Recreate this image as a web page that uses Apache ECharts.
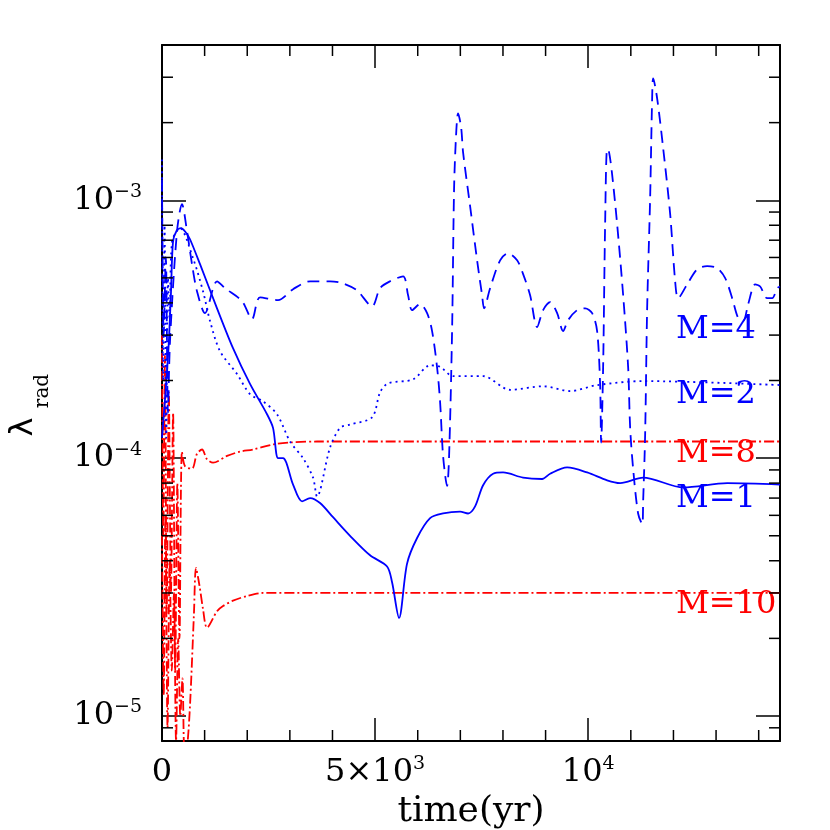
<!DOCTYPE html>
<html>
<head>
<meta charset="utf-8">
<script src="https://cdn.jsdelivr.net/npm/echarts@6/dist/echarts.min.js"></script>
<style>
  html, body { margin: 0; padding: 0; background: #fff; }
  #chart { width: 830px; height: 830px; }
</style>
</head>
<body>
<div id="chart"></div>
<script>
// axis ranges
const tMin = 0, tMax = 14500;
const lamMin = 8e-6, lamMax = 4e-3;

// x tick labels (major ticks every 5000 yr, minor every 1000)
const xTickLabels = { 0: '{b|0}', 5000: '{b|5×10}{s|3}', 10000: '{b|10}{s|4}' };
const xMinorTicks = [1000, 2000, 3000, 4000, 6000, 7000, 8000, 9000, 11000, 12000, 13000, 14000];
// minor ticks of the log axis
const yMinorTicks = [9e-6,
  2e-5, 3e-5, 4e-5, 5e-5, 6e-5, 7e-5, 8e-5, 9e-5,
  2e-4, 3e-4, 4e-4, 5e-4, 6e-4, 7e-4, 8e-4, 9e-4,
  2e-3, 3e-3];

// [time (yr), lambda_rad]
const m1 = [[0, 1.2e-4], [60, 1.6e-4], [120, 2.2e-4], [164, 2.9e-4], [211, 4.4e-4], [258, 6.9e-4],
  [340, 7.6e-4], [446, 7.8e-4], [560, 7.5e-4], [657, 7.06e-4], [892, 5.65e-4], [1291, 3.81e-4],
  [1666, 2.67e-4], [2065, 1.94e-4], [2464, 1.48e-4], [2605, 1.31e-4], [2723, 1.0e-4], [2840, 1.0e-4],
  [3075, 7.9e-5], [3286, 6.8e-5], [3474, 7.0e-5], [3708, 6.7e-5], [4013, 5.9e-5], [4412, 5.0e-5],
  [4882, 4.2e-5], [5281, 3.8e-5], [5398, 3.3e-5], [5562, 2.4e-5], [5750, 3.9e-5], [5985, 4.9e-5],
  [6290, 5.85e-5], [6595, 6.1e-5], [6994, 6.2e-5], [7182, 6.1e-5], [7346, 6.5e-5], [7534, 7.85e-5],
  [7768, 8.7e-5], [8003, 8.8e-5], [8472, 8.4e-5], [8919, 8.3e-5], [9106, 8.7e-5], [9505, 9.2e-5],
  [9975, 8.8e-5], [10444, 8.2e-5], [10749, 8.0e-5], [11289, 8.4e-5], [12228, 7.7e-5], [13261, 8.0e-5],
  [14500, 7.9e-5]];

const m2 = [[0, 1.44e-3], [25, 2.0e-4], [60, 8.0e-4], [100, 1.2e-4], [140, 5.0e-4], [180, 3.5e-4],
  [235, 6.9e-4], [422, 7.8e-4], [728, 5.96e-4], [962, 4.44e-4], [1127, 3.4e-4], [1361, 2.6e-4],
  [1760, 2.12e-4], [2065, 1.77e-4], [2371, 1.66e-4], [2699, 1.48e-4], [3004, 1.16e-4], [3309, 1.0e-4],
  [3544, 8.4e-5], [3638, 7.1e-5], [3943, 1.1e-4], [4178, 1.31e-4], [4412, 1.35e-4], [4929, 1.44e-4],
  [5117, 1.8e-4], [5304, 1.95e-4], [5891, 2.02e-4], [6290, 2.29e-4], [6525, 2.26e-4], [6830, 2.08e-4],
  [7534, 2.08e-4], [8168, 1.84e-4], [8942, 1.9e-4], [9576, 1.82e-4], [10209, 1.92e-4], [11289, 1.99e-4],
  [14500, 1.92e-4]];

const m4 = [[0, 1.2e-3], [40, 3.0e-4], [90, 6.0e-4], [140, 1.5e-4], [188, 2.84e-4], [352, 7.58e-4],
  [469, 9.65e-4], [587, 7.58e-4], [704, 5.65e-4], [821, 4.44e-4], [1009, 3.65e-4], [1291, 4.85e-4],
  [1479, 4.56e-4], [1878, 4.06e-4], [2112, 3.46e-4], [2300, 4.2e-4], [2723, 4.1e-4], [3075, 4.52e-4],
  [3474, 4.85e-4], [3943, 4.85e-4], [4248, 4.76e-4], [4577, 4.47e-4], [4929, 3.88e-4], [5117, 4.56e-4],
  [5351, 4.85e-4], [5656, 5.07e-4], [5774, 4.28e-4], [5868, 3.75e-4], [6055, 3.96e-4], [6220, 3.65e-4],
  [6337, 3.11e-4], [6454, 2.25e-4], [6525, 1.65e-4], [6595, 1.02e-4], [6689, 7.8e-5], [6736, 1.02e-4],
  [6806, 3.11e-4], [6853, 1.11e-3], [6900, 1.79e-3], [6947, 2.17e-3], [7018, 1.92e-3], [7065, 1.53e-3],
  [7229, 9.48e-4], [7393, 5.85e-4], [7510, 4.28e-4], [7557, 3.81e-4], [7698, 4.56e-4], [7933, 5.85e-4],
  [8121, 6.23e-4], [8332, 5.85e-4], [8473, 5.17e-4], [8637, 4.28e-4], [8801, 3.22e-4], [8942, 3.75e-4],
  [9106, 4.03e-4], [9271, 3.65e-4], [9411, 3.11e-4], [9529, 3.43e-4], [9740, 3.75e-4], [9928, 3.81e-4],
  [10092, 3.65e-4], [10209, 3.11e-4], [10280, 1.92e-4], [10303, 1.15e-4], [10350, 2.25e-4], [10397, 8.07e-4],
  [10444, 1.58e-3], [10491, 1.53e-3], [10561, 1.26e-3], [10679, 8.07e-4], [10820, 4.28e-4], [10937, 2.25e-4],
  [10984, 1.31e-4], [11054, 9.1e-5], [11171, 6.1e-5], [11266, 5.55e-5], [11289, 6.8e-5], [11336, 1.24e-4],
  [11383, 3.81e-4], [11453, 1.02e-3], [11500, 2.48e-3], [11524, 2.97e-3], [11618, 2.48e-3], [11759, 1.59e-3],
  [11923, 8.83e-4], [12040, 4.85e-4], [12110, 4.17e-4], [12322, 4.72e-4], [12556, 5.4e-4], [12791, 5.55e-4],
  [13026, 5.45e-4], [13214, 4.99e-4], [13378, 4.17e-4], [13519, 3.49e-4], [13636, 3.4e-4], [13754, 3.96e-4],
  [13918, 4.72e-4], [14035, 4.63e-4], [14199, 4.17e-4], [14317, 4.17e-4], [14434, 4.56e-4], [14500, 4.63e-4]];

const m8 = [[0, 3.0e-4], [30, 5.0e-5], [70, 2.5e-4], [110, 2.5e-5], [160, 1.8e-4], [210, 3.0e-5],
  [260, 1.5e-4], [310, 1.5e-5], [360, 8.0e-5], [410, 2.0e-5], [469, 1.06e-4], [540, 9.3e-5],
  [704, 9.1e-5], [821, 1.04e-4], [939, 1.08e-4], [1056, 9.9e-5], [1197, 9.6e-5], [1526, 1.02e-4],
  [1831, 1.06e-4], [2136, 1.08e-4], [2605, 1.13e-4], [3004, 1.15e-4], [3638, 1.16e-4], [14500, 1.16e-4]];

const m10 = [[0, 5e-5], [40, 1.2e-5], [80, 6e-5], [130, 9e-6], [180, 4e-5], [230, 1.5e-5],
  [280, 3e-5], [330, 8e-6], [380, 2e-5], [430, 1e-5], [480, 1.4e-5], [530, 7e-6],
  [587, 7.5e-6], [657, 1.1e-5], [750, 2.5e-5], [798, 3.75e-5], [880, 3.2e-5], [962, 2.6e-5],
  [1056, 2.2e-5], [1291, 2.55e-5], [1432, 2.67e-5], [1666, 2.8e-5], [1995, 2.92e-5], [2371, 3.0e-5],
  [14500, 3.0e-5]];

const serif = '"DejaVu Serif", serif';
const BLUE = '#0000ff', RED = '#ff0000';

const tickRich = {
  b: { fontFamily: serif, fontSize: 32, color: '#000', lineHeight: 36 },
  s: { fontFamily: serif, fontSize: 19, color: '#000', lineHeight: 26, verticalAlign: 'top' }
};

function powLabel(v) {
  const e = Math.log10(v);
  const r = Math.round(e);
  if (Math.abs(e - r) > 1e-6) return '';
  return '{b|10}{s|−' + Math.abs(r) + '}';
}

function lineSeries(name, data, color, dash) {
  return {
    name: name, type: 'line', data: data,
    showSymbol: false, smooth: 0.3, clip: true, z: 3,
    lineStyle: { color: color, width: 1.8, type: dash }
  };
}

// short ticks drawn through the axes' own scales
function tickLine(x1, y1, x2, y2) {
  return { type: 'line', shape: { x1: x1, y1: y1, x2: x2, y2: y2 }, style: { stroke: '#000', lineWidth: 1.5 } };
}

const axisLine = { show: true, onZero: false, lineStyle: { color: '#000', width: 2 } };
const tickStyle = { color: '#000', width: 1.5 };

const chart = echarts.init(document.getElementById('chart'), null, { renderer: 'canvas' });
chart.setOption({
  animation: false,
  backgroundColor: '#fff',
  grid: { left: 162, top: 45, width: 618, height: 696, containLabel: false, outerBoundsMode: 'none' },
  xAxis: [{
    type: 'value', position: 'bottom', min: tMin, max: tMax, interval: 5000,
    axisLine: axisLine,
    axisTick: { show: true, inside: true, length: 23, lineStyle: tickStyle },
    splitLine: { show: false },
    axisLabel: { margin: 14, formatter: v => xTickLabels[v] || '', rich: tickRich },
    name: 'time(yr)', nameLocation: 'middle', nameGap: 47,
    nameTextStyle: { fontFamily: serif, fontSize: 36, color: '#000' }
  }, {
    type: 'value', position: 'top', min: tMin, max: tMax, interval: 5000,
    axisLine: axisLine,
    axisTick: { show: true, inside: true, length: 23, lineStyle: tickStyle },
    splitLine: { show: false },
    axisLabel: { show: false }
  }],
  yAxis: [{
    type: 'log', logBase: 10, position: 'left', min: lamMin, max: lamMax,
    axisLine: axisLine,
    axisTick: { show: true, inside: true, length: 24, lineStyle: tickStyle },
    splitLine: { show: false },
    axisLabel: { margin: 20, formatter: powLabel, rich: tickRich }
  }, {
    type: 'log', logBase: 10, position: 'right', min: lamMin, max: lamMax,
    axisLine: axisLine,
    axisTick: { show: true, inside: true, length: 24, lineStyle: tickStyle },
    splitLine: { show: false },
    axisLabel: { show: false }
  }],
  graphic: [
    { type: 'text', x: 24, y: 427, rotation: Math.PI / 2,
      style: { text: 'λ', fill: '#000', fontFamily: '"DejaVu Sans"', fontSize: 32, align: 'center', verticalAlign: 'middle' } },
    { type: 'text', x: 43, y: 391, rotation: Math.PI / 2,
      style: { text: 'rad', fill: '#000', fontFamily: serif, fontSize: 20, align: 'center', verticalAlign: 'middle' } },
    { type: 'text', x: 676, y: 330, style: { text: 'M=4', fill: BLUE, fontFamily: serif, fontSize: 32, align: 'left', verticalAlign: 'middle' } },
    { type: 'text', x: 676, y: 395, style: { text: 'M=2', fill: BLUE, fontFamily: serif, fontSize: 32, align: 'left', verticalAlign: 'middle' } },
    { type: 'text', x: 676, y: 454, style: { text: 'M=8', fill: RED, fontFamily: serif, fontSize: 32, align: 'left', verticalAlign: 'middle' } },
    { type: 'text', x: 676, y: 499, style: { text: 'M=1', fill: BLUE, fontFamily: serif, fontSize: 32, align: 'left', verticalAlign: 'middle' } },
    { type: 'text', x: 676, y: 605, style: { text: 'M=10', fill: RED, fontFamily: serif, fontSize: 32, align: 'left', verticalAlign: 'middle' } }
  ],
  series: [
    lineSeries('M=10', m10, RED, [10, 3, 2, 3]),
    lineSeries('M=8', m8, RED, [10, 3, 2, 3]),
    lineSeries('M=1', m1, BLUE, 'solid'),
    lineSeries('M=2', m2, BLUE, [2, 4]),
    lineSeries('M=4', m4, BLUE, [12, 7]),
    {
      // minor ticks of the log axis, left and right of the box
      type: 'custom', xAxisIndex: 0, yAxisIndex: 0, silent: true, clip: false, z: 5,
      data: yMinorTicks.map(v => [tMin, v]),
      renderItem: function (params, api) {
        const v = api.value(1);
        const l = api.coord([tMin, v]);
        const r = api.coord([tMax, v]);
        return { type: 'group', children: [
          tickLine(l[0], l[1], l[0] + 11, l[1]),
          tickLine(r[0] - 11, r[1], r[0], r[1])
        ] };
      }
    },
    {
      // minor ticks of the time axis, bottom and top of the box
      type: 'custom', xAxisIndex: 0, yAxisIndex: 0, silent: true, clip: false, z: 5,
      data: xMinorTicks.map(t => [t, lamMin]),
      renderItem: function (params, api) {
        const t = api.value(0);
        const b = api.coord([t, lamMin]);
        const u = api.coord([t, lamMax]);
        return { type: 'group', children: [
          tickLine(b[0], b[1], b[0], b[1] - 11),
          tickLine(u[0], u[1], u[0], u[1] + 11)
        ] };
      }
    }
  ]
});
</script>
</body>
</html>
